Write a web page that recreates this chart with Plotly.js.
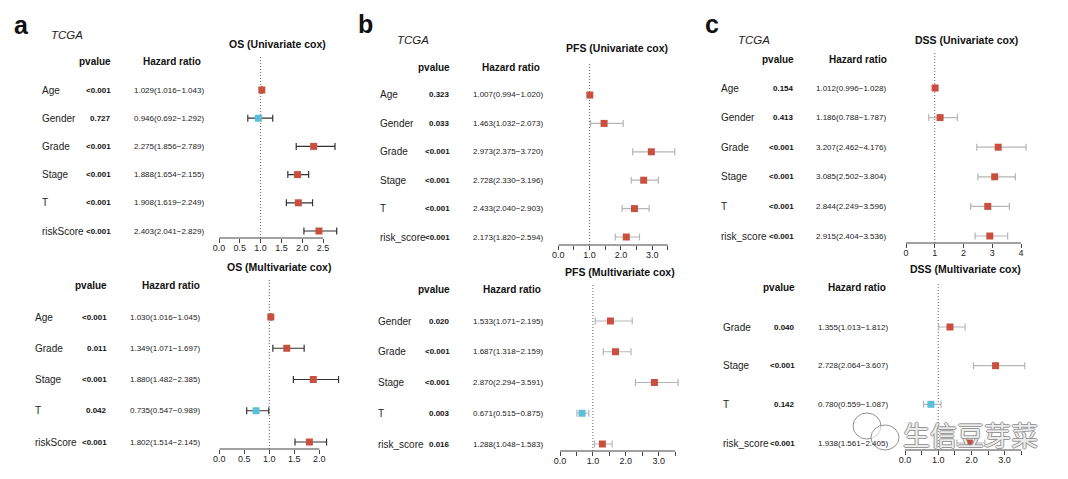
<!DOCTYPE html>
<html>
<head>
<meta charset="utf-8">
<script src="https://cdn.plot.ly/plotly-3.0.1.min.js"></script>
<style>html,body{margin:0;padding:0;background:#fff;}#chart{width:1068px;height:479px;}</style>
</head>
<body>
<div id="chart"></div>
<script>
// ---------------- DATA ----------------
// a: OS univariate
const osUniVars = ["Age","Gender","Grade","Stage","T","riskScore"];
const osUniP    = ["<0.001","0.727","<0.001","<0.001","<0.001","<0.001"];
const osUniHR   = [1.029,0.946,2.275,1.888,1.908,2.403];
const osUniLow  = [1.016,0.692,1.856,1.654,1.619,2.041];
const osUniHigh = [1.043,1.292,2.789,2.155,2.249,2.829];
// a: OS multivariate
const osMulVars = ["Age","Grade","Stage","T","riskScore"];
const osMulP    = ["<0.001","0.011","<0.001","0.042","<0.001"];
const osMulHR   = [1.030,1.349,1.880,0.735,1.802];
const osMulLow  = [1.016,1.071,1.482,0.547,1.514];
const osMulHigh = [1.045,1.697,2.385,0.989,2.145];
// b: PFS univariate
const pfsUniVars = ["Age","Gender","Grade","Stage","T","risk_score"];
const pfsUniP    = ["0.323","0.033","<0.001","<0.001","<0.001","<0.001"];
const pfsUniHR   = [1.007,1.463,2.973,2.728,2.433,2.173];
const pfsUniLow  = [0.994,1.032,2.375,2.330,2.040,1.820];
const pfsUniHigh = [1.020,2.073,3.720,3.196,2.903,2.594];
// b: PFS multivariate
const pfsMulVars = ["Gender","Grade","Stage","T","risk_score"];
const pfsMulP    = ["0.020","<0.001","<0.001","0.003","0.016"];
const pfsMulHR   = [1.533,1.687,2.870,0.671,1.288];
const pfsMulLow  = [1.071,1.318,2.294,0.515,1.048];
const pfsMulHigh = [2.195,2.159,3.591,0.875,1.583];
// c: DSS univariate
const dssUniVars = ["Age","Gender","Grade","Stage","T","risk_score"];
const dssUniP    = ["0.154","0.413","<0.001","<0.001","<0.001","<0.001"];
const dssUniHR   = [1.012,1.186,3.207,3.085,2.844,2.915];
const dssUniLow  = [0.996,0.788,2.462,2.502,2.249,2.404];
const dssUniHigh = [1.028,1.787,4.176,3.804,3.596,3.536];
// c: DSS multivariate
const dssMulVars = ["Grade","Stage","T","risk_score"];
const dssMulP    = ["0.040","<0.001","0.142","<0.001"];
const dssMulHR   = [1.355,2.728,0.780,1.938];
const dssMulLow  = [1.013,2.064,0.559,1.561];
const dssMulHigh = [1.812,3.607,1.087,2.405];

// tick labels
const ticksA1 = ["0.0","0.5","1.0","1.5","2.0","2.5"];
const ticksA2 = ["0.0","0.5","1.0","1.5","2.0"];
const ticksB  = ["0.0","","1.0","","2.0","","3.0",""];
const ticksC1 = ["0","1","2","3","4"];
const ticksC2 = ["0.0","","1.0","","2.0","","3.0",""];

const titles = ["OS (Univariate cox)","OS (Multivariate cox)","PFS (Univariate cox)",
                "PFS (Multivariate cox)","DSS (Univariate cox)","DSS (Multivariate cox)"];
const panelLetters = ["a","b","c"];
const cohort = "TCGA";
const headerP = "pvalue", headerHR = "Hazard ratio";

// ---------------- LAYOUT (pixel geometry) ----------------
const W = 1068, H = 479;
const px = x => x / W;
const py = y => 1 - y / H;
const RED = "#c9503f", BLUE = "#5bbfd9";
const FONT = "Liberation Sans, Arial, Helvetica, sans-serif";

const panels = [
  {vars:osUniVars,p:osUniP,hr:osUniHR,lo:osUniLow,hi:osUniHigh,ticks:ticksA1,step:0.5,
   g:{titleX:277,titleY:44,headY:62,rowTop:90,rowBot:231,lineY:238,dotTop:57,x0:219,ppu:41.6,xMax:2.9,
      labX:40,pR:113,hrL:132,hrHR:203,eb:"#333333"}},
  {vars:osMulVars,p:osMulP,hr:osMulHR,lo:osMulLow,hi:osMulHigh,ticks:ticksA2,step:0.5,
   g:{titleX:279,titleY:267,headY:285,rowTop:317,rowBot:442,lineY:449,dotTop:278,x0:219.3,ppu:50,xMax:2.45,
      labX:33,pR:109,hrL:128,hrHR:202,eb:"#333333"}},
  {vars:pfsUniVars,p:pfsUniP,hr:pfsUniHR,lo:pfsUniLow,hi:pfsUniHigh,ticks:ticksB,step:0.5,
   g:{titleX:617,titleY:48,headY:67,rowTop:95,rowBot:237,lineY:245,dotTop:62,x0:558.3,ppu:31.3,xMax:3.8,
      labX:378,pR:452,hrL:471,hrHR:542,eb:"#b5b5b5"}},
  {vars:pfsMulVars,p:pfsMulP,hr:pfsMulHR,lo:pfsMulLow,hi:pfsMulHigh,ticks:ticksB,step:0.5,
   g:{titleX:620,titleY:272,headY:289,rowTop:321,rowBot:444,lineY:451,dotTop:283,x0:560,ppu:32.9,xMax:3.65,
      labX:376,pR:452,hrL:471,hrHR:543,eb:"#b5b5b5"}},
  {vars:dssUniVars,p:dssUniP,hr:dssUniHR,lo:dssUniLow,hi:dssUniHigh,ticks:ticksC1,step:1,
   g:{titleX:966,titleY:40,headY:59,rowTop:88,rowBot:236,lineY:243,dotTop:53,x0:906,ppu:28.75,xMax:4.3,
      labX:719,pR:796,hrL:814,hrHR:889,eb:"#b5b5b5"}},
  {vars:dssMulVars,p:dssMulP,hr:dssMulHR,lo:dssMulLow,hi:dssMulHigh,ticks:ticksC2,step:0.5,
   g:{titleX:965,titleY:269,headY:287,rowTop:327,rowBot:443,lineY:450,dotTop:282,x0:905,ppu:33.2,xMax:3.7,
      labX:721,pR:797,hrL:816,hrHR:888,eb:"#b5b5b5"}}
];

const traces = [];
const layout = {
  width: W, height: H, margin:{l:0,r:0,t:0,b:0},
  paper_bgcolor:"#fff", plot_bgcolor:"rgba(0,0,0,0)",
  showlegend:false, font:{family:FONT, color:"#222"},
  annotations:[], shapes:[]
};

panels.forEach((P,k) => {
  const id = k + 1, sfx = id === 1 ? "" : String(id);
  const g = P.g, n = P.vars.length;
  const s = (g.rowBot - g.rowTop) / (n - 1);
  const yLo = -(g.lineY - g.rowBot) / s;
  const yHi = (n - 1) + (g.rowTop - g.dotTop) / s;
  const yv = P.vars.map((_, i) => n - 1 - i);
  const tickvals = P.ticks.map((_, i) => i * P.step);

  layout["xaxis" + sfx] = {
    domain:[px(g.x0), px(g.x0 + g.xMax * g.ppu)], range:[0, g.xMax], anchor:"y" + sfx,
    showgrid:false, zeroline:false, showline:false, ticks:"outside", ticklen:4, tickwidth:1,
    tickcolor:"#444", tickmode:"array", tickvals:tickvals, ticktext:P.ticks,
    tickfont:{size:9, color:"#222", family:FONT}, ticklabelstandoff:-3, fixedrange:true
  };
  layout["yaxis" + sfx] = {
    domain:[py(g.lineY), py(g.dotTop)], range:[yLo, yHi], anchor:"x" + sfx,
    visible:false, fixedrange:true
  };

  traces.push({
    type:"scatter", mode:"markers", x:P.hr, y:yv, xaxis:"x" + sfx, yaxis:"y" + sfx,
    marker:{symbol:"square", size:7, color:P.hr.map(v => v > 1 ? RED : BLUE)},
    error_x:{type:"data", symmetric:false,
      array:P.hi.map((h, i) => h - P.hr[i]), arrayminus:P.hr.map((v, i) => v - P.lo[i]),
      color:g.eb, thickness:1.2, width:3.5},
    hoverinfo:"skip", cliponaxis:false
  });

  // axis line (R style, only across tick span)
  layout.shapes.push({type:"line", xref:"x" + sfx, yref:"y" + sfx + " domain",
    x0:0, x1:tickvals[tickvals.length - 1], y0:0, y1:0, line:{color:"#444", width:1}});
  // reference line at HR = 1
  layout.shapes.push({type:"line", xref:"x" + sfx, yref:"y" + sfx + " domain",
    x0:1, x1:1, y0:0, y1:1, line:{color:"#666", width:1, dash:"1px,2px"}, layer:"below"});

  const A = layout.annotations;
  A.push({text:"<b>" + titles[k] + "</b>", xref:"paper", yref:"paper", x:px(g.titleX), y:py(g.titleY),
    xanchor:"center", yanchor:"middle", showarrow:false, font:{size:10.5, color:"#111"}});
  A.push({text:"<b>" + headerP + "</b>", xref:"paper", yref:"paper", x:px(g.pR), y:py(g.headY),
    xanchor:"right", yanchor:"middle", showarrow:false, font:{size:10, color:"#111"}});
  A.push({text:"<b>" + headerHR + "</b>", xref:"paper", yref:"paper", x:px(g.hrHR), y:py(g.headY),
    xanchor:"right", yanchor:"middle", showarrow:false, font:{size:10, color:"#111"}});

  P.vars.forEach((v, i) => {
    A.push({text:v, xref:"paper", yref:"y" + sfx, x:px(g.labX), y:yv[i], xanchor:"left", yanchor:"middle",
      showarrow:false, font:{size:10, color:"#222"}});
    A.push({text:"<b>" + P.p[i] + "</b>", xref:"paper", yref:"y" + sfx, x:px(g.pR), y:yv[i],
      xanchor:"right", yanchor:"middle", showarrow:false, font:{size:8, color:"#111"}});
    const hrTxt = P.hr[i].toFixed(3) + "(" + P.lo[i].toFixed(3) + "\u2212" + P.hi[i].toFixed(3) + ")";
    A.push({text:hrTxt, xref:"paper", yref:"y" + sfx, x:px(g.hrL), y:yv[i], xanchor:"left", yanchor:"middle",
      showarrow:false, font:{size:8, color:"#222"}});
  });
});

// panel letters and cohort labels
const letterPos = [[21,25],[365,24],[712,24]];
const cohortPos = [[67,35],[413,40],[754,40]];
panelLetters.forEach((L, i) => {
  layout.annotations.push({text:"<b>" + L + "</b>", xref:"paper", yref:"paper",
    x:px(letterPos[i][0]), y:py(letterPos[i][1]), xanchor:"center", yanchor:"middle", showarrow:false,
    font:{size:25, color:"#111"}});
  layout.annotations.push({text:"<i>" + cohort + "</i>", xref:"paper", yref:"paper",
    x:px(cohortPos[i][0]), y:py(cohortPos[i][1]), xanchor:"center", yanchor:"middle", showarrow:false,
    font:{size:11.5, color:"#222"}});
});

// watermark (WeChat bubbles + text)
layout.shapes.push({type:"circle", xref:"paper", yref:"paper", x0:px(853), x1:px(881), y0:py(439), y1:py(413),
  line:{color:"rgba(120,120,120,0.8)", width:1}, fillcolor:"rgba(255,255,255,0.6)", layer:"above"});
layout.shapes.push({type:"circle", xref:"paper", yref:"paper", x0:px(871), x1:px(899), y0:py(450), y1:py(425),
  line:{color:"rgba(120,120,120,0.8)", width:1}, fillcolor:"rgba(255,255,255,0.6)", layer:"above"});
layout.annotations.push({text:"生信豆芽菜", xref:"paper", yref:"paper", x:px(971), y:py(434),
  xanchor:"center", yanchor:"middle", showarrow:false,
  font:{family:"Noto Sans CJK SC", size:27, color:"rgba(255,255,255,0.85)",
        shadow:"1px 0 0 #888, -1px 0 0 #888, 0 1px 0 #888, 0 -1px 0 #888"}});

Plotly.newPlot("chart", traces, layout, {staticPlot:true, displayModeBar:false});
</script>
</body>
</html>
